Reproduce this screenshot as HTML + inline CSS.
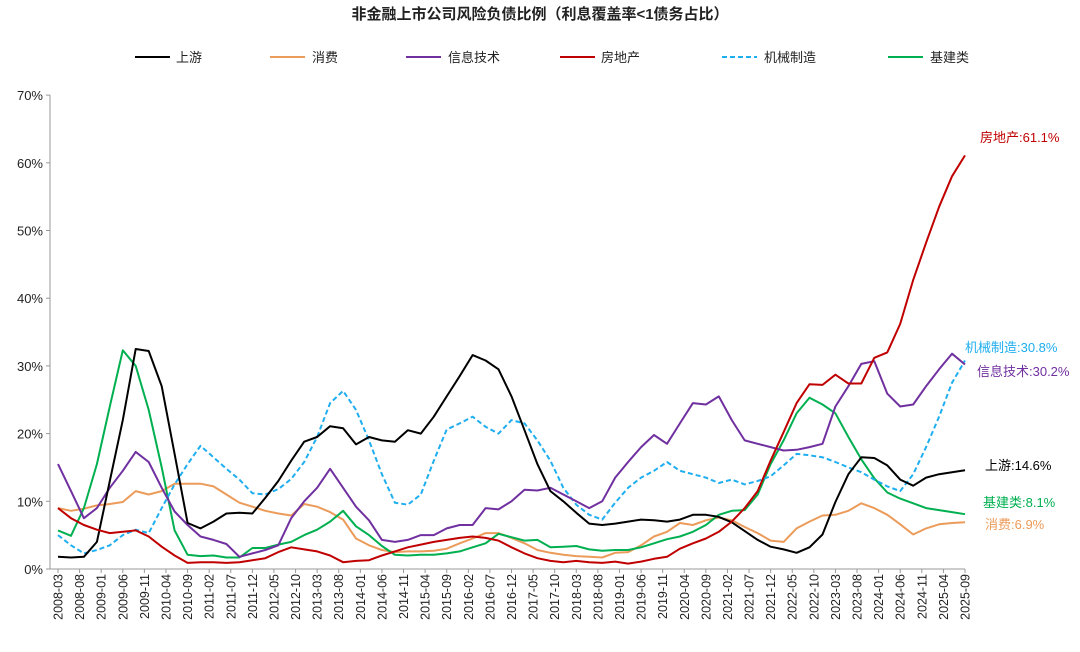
<!DOCTYPE html>
<html><head><meta charset="utf-8">
<style>
html,body{margin:0;padding:0;background:#fff;}
svg{display:block;font-family:"Liberation Sans","Noto Sans CJK SC",sans-serif;}
</style></head>
<body>
<svg id="c" width="1080" height="652" viewBox="0 0 1080 652" xmlns="http://www.w3.org/2000/svg">
<text x="540" y="19" text-anchor="middle" font-size="15" font-weight="bold" fill="#222">非金融上市公司风险负债比例（利息覆盖率&lt;1债务占比）</text>
<g font-size="13" fill="#222">
<line x1="135" y1="57" x2="170" y2="57" stroke="#000" stroke-width="2"/><text x="176" y="62">上游</text>
<line x1="270" y1="57" x2="305" y2="57" stroke="#EB9B5A" stroke-width="2"/><text x="312" y="62">消费</text>
<line x1="406" y1="57" x2="441" y2="57" stroke="#7030A0" stroke-width="2"/><text x="448" y="62">信息技术</text>
<line x1="560" y1="57" x2="595" y2="57" stroke="#C00000" stroke-width="2"/><text x="601" y="62">房地产</text>
<line x1="722" y1="57" x2="757" y2="57" stroke="#1FAEEF" stroke-width="2" stroke-dasharray="5,3"/><text x="764" y="62">机械制造</text>
<line x1="888" y1="57" x2="923" y2="57" stroke="#00B050" stroke-width="2"/><text x="930" y="62">基建类</text>
</g>
<g id="axes"></g>
<g id="series"></g>
<g font-size="13">
<text x="980" y="142" fill="#C00000">房地产:61.1%</text>
<text x="965" y="352" fill="#1FAEEF">机械制造:30.8%</text>
<text x="977" y="376" fill="#7030A0">信息技术:30.2%</text>
<text x="985" y="470" fill="#000">上游:14.6%</text>
<text x="983" y="507" fill="#00B050">基建类:8.1%</text>
<text x="985" y="529" fill="#EB9B5A">消费:6.9%</text>
</g>
</svg>
<script>
var X0=58,X1=965,Y0=569,PX=6.77;
function xi(i){return X0+(X1-X0)*i/70;}
function yv(v){return Y0-v*PX;}
var ax='';
ax+='<line x1="50" y1="95" x2="50" y2="'+Y0+'" stroke="#999" stroke-width="1"/>';
ax+='<line x1="50" y1="'+Y0+'" x2="'+X1+'" y2="'+Y0+'" stroke="#999" stroke-width="1"/>';
for(var p=0;p<=70;p+=10){var y=yv(p);ax+='<line x1="46" y1="'+y+'" x2="50" y2="'+y+'" stroke="#999"/>';
ax+='<text x="43" y="'+(y+5)+'" text-anchor="end" font-size="13" fill="#222">'+p+'%</text>';}
for(var m=0;m<=210;m+=5){var x=X0+(X1-X0)*m/210;var yr=2008+Math.floor((m+2)/12);var mo=((m+2)%12)+1;
var lab=yr+'-'+(mo<10?'0':'')+mo;
ax+='<line x1="'+x+'" y1="'+Y0+'" x2="'+x+'" y2="'+(Y0+4)+'" stroke="#999"/>';
ax+='<text transform="translate('+(x+4.5)+','+(Y0+5)+') rotate(-90)" text-anchor="end" font-size="12.5" fill="#222">'+lab+'</text>';}
document.getElementById('axes').innerHTML=ax;
var S=[
['#EB9B5A',0,[9,8.6,8.9,9.4, 9.6,9.9,11.5,11, 11.5,12.6,12.6,12.6, 12.2,11,9.8,9.2, 8.6,8.2,7.9,9.6, 9.2,8.4,7.3,4.5, 3.5,2.8,2.5,2.6, 2.6,2.7,3,3.8, 4.5,5.3,5.3,4.6, 3.8,2.8,2.4,2.1, 1.9,1.8,1.7,2.4, 2.5,3.5,4.8,5.5, 6.8,6.5,7.2,7.6, 7.2,6.2,5.3,4.2, 4.0,6.0,7.0,7.9, 8.0,8.6,9.7,9, 8.0,6.6,5.1,6, 6.6,6.8,6.9]],
['#00B050',0,[5.7,4.9,9,15.5, 24,32.3,30,23.5, 15,5.7,2.1,1.9, 2,1.7,1.7,3.1, 3.1,3.6,4,5, 5.8,7,8.6,6.3, 5,3.4,2.1,2, 2.1,2.1,2.3,2.6, 3.2,3.8,5.2,4.7, 4.2,4.3,3.2,3.3, 3.4,2.9,2.7,2.8, 2.8,3.2,3.8,4.4, 4.8,5.5,6.5,8, 8.6,8.7,11,15.5, 19,23,25.3,24.3, 23,19.5,16.2,13.4, 11.3,10.4,9.7,9, 8.7,8.4,8.1]],
['#1FAEEF',1,[5,3.5,2.3,2.8, 3.5,5,5.8,5.3, 9,12.5,15.5,18.2, 16.5,14.8,13.2,11.2, 11,11.8,13.3,15.8, 19.5,24.5,26.3,23.5, 19,14,9.8,9.5, 11,16,20.6,21.5, 22.5,21,20,22, 21.5,19,16,12, 9.5,8,7.3,9.8, 12,13.5,14.5,15.8, 14.5,14,13.5,12.7, 13.2,12.5,13,13.7, 15.3,17,16.8,16.5, 15.8,15,14.3,13.2, 12.2,11.5,14,18, 22.5,27.5,30.8]],
['#7030A0',0,[15.5,11.5,7.5,9, 12,14.5,17.3,15.8, 12,8.5,6.5,4.8, 4.3,3.7,1.8,2.3, 2.8,3.5,7.5,10, 12,14.8,12,9.2, 7.2,4.3,4,4.3, 5,5,6,6.5, 6.5,9,8.8,10, 11.7,11.6,12,11, 10,9,10,13.5, 15.8,18,19.8,18.5, 21.5,24.5,24.3,25.5, 22,19,18.5,18, 17.5,17.6,18,18.5, 24,27,30.3,30.7, 25.9,24,24.3,27, 29.5,31.8,30.2]],
['#000',0,[1.8,1.7,1.8,4, 13,22,32.5,32.2, 27,17,6.8,6, 7,8.2,8.3,8.2, 10.5,13,16,18.8, 19.5,21.1,20.8,18.4, 19.5,19,18.8,20.5, 20,22.5,25.5,28.5, 31.6,30.8,29.5,25.5, 20.5,15.5,11.5,10, 8.3,6.7,6.5,6.7, 7,7.3,7.2,7, 7.3,8,8,7.7, 6.9,5.6,4.3,3.3, 2.9,2.4,3.2,5.1, 9.9,14,16.5,16.4, 15.3,13.2,12.3,13.5, 14,14.3,14.6]],
['#C00000',0,[9,7.5,6.5,5.8, 5.3,5.5,5.7,4.8, 3.3,2,0.9,1, 1,0.9,1,1.3, 1.6,2.5,3.2,2.9, 2.6,2,1,1.2, 1.3,2,2.6,3.2, 3.6,4,4.3,4.6, 4.8,4.6,4.2,3.2, 2.3,1.6,1.2,1, 1.2,1,0.9,1.1, 0.8,1.1,1.5,1.8, 3,3.8,4.5,5.5, 7,9,11.5,16, 20.2,24.5,27.3,27.2, 28.7,27.4,27.4,31.2, 32,36.2,42.7,48.2, 53.5,58,61.1]]
];
var h='';
S.forEach(function(s){var d=s[2],pts=[];var n=d.length,off=71-n;
for(var i=0;i<n;i++)pts.push(xi(i+off).toFixed(1)+','+yv(d[i]).toFixed(1));
h+='<polyline fill="none" stroke="'+s[0]+'" stroke-width="2" stroke-linejoin="round" '+(s[1]?'stroke-dasharray="5,3" ':'')+'points="'+pts.join(' ')+'"/>';});
document.getElementById('series').innerHTML=h;
</script>
</body></html>
